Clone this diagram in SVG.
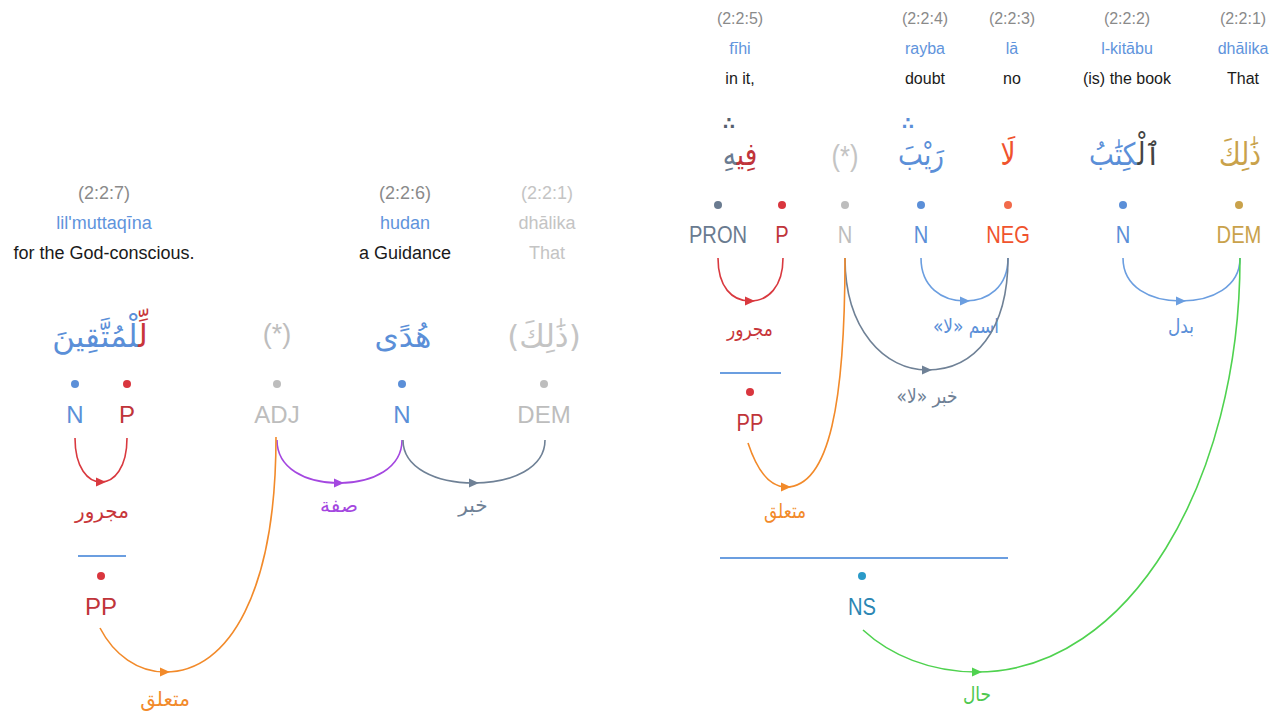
<svg xmlns="http://www.w3.org/2000/svg" width="1283" height="715" viewBox="0 0 1283 715">
<style>
text{font-family:"Liberation Sans",Arial,sans-serif;text-anchor:middle}
.loc{font-size:18px;fill:#8a8a8a}
.tr{font-size:18px;fill:#5f94dc}
.en{font-size:18px;fill:#1a1a1a}
.locR{font-size:16px;fill:#8a8a8a}
.trR{font-size:16px;fill:#5f94dc}
.enR{font-size:16px;fill:#1a1a1a}
.dim{fill:#c4c4c4}
.ar{font-family:"DejaVu Sans",sans-serif;font-size:31px;direction:rtl}
.pos{font-size:24px}
.lbl{font-family:"DejaVu Sans",sans-serif;font-size:20px;direction:rtl}
.waqf{font-family:"DejaVu Sans",sans-serif;font-size:17px;font-weight:bold}
.arc{fill:none;stroke-width:1.6}
.bar{stroke:#6b9ee0;stroke-width:2}
</style>
<defs>
<marker id="mRed" viewBox="0 0 10 10" refX="5" refY="5" markerWidth="10" markerHeight="10" markerUnits="userSpaceOnUse" orient="auto"><path d="M0,0.5 L10,5 L0,9.5z" fill="#d9393f"/></marker>
<marker id="mOrange" viewBox="0 0 10 10" refX="5" refY="5" markerWidth="10" markerHeight="10" markerUnits="userSpaceOnUse" orient="auto"><path d="M0,0.5 L10,5 L0,9.5z" fill="#f28a2a"/></marker>
<marker id="mPurple" viewBox="0 0 10 10" refX="5" refY="5" markerWidth="10" markerHeight="10" markerUnits="userSpaceOnUse" orient="auto"><path d="M0,0.5 L10,5 L0,9.5z" fill="#a447e0"/></marker>
<marker id="mSlate" viewBox="0 0 10 10" refX="5" refY="5" markerWidth="10" markerHeight="10" markerUnits="userSpaceOnUse" orient="auto"><path d="M0,0.5 L10,5 L0,9.5z" fill="#6f8196"/></marker>
<marker id="mBlue" viewBox="0 0 10 10" refX="5" refY="5" markerWidth="10" markerHeight="10" markerUnits="userSpaceOnUse" orient="auto"><path d="M0,0.5 L10,5 L0,9.5z" fill="#6b9ee0"/></marker>
<marker id="mGreen" viewBox="0 0 10 10" refX="5" refY="5" markerWidth="10" markerHeight="10" markerUnits="userSpaceOnUse" orient="auto"><path d="M0,0.5 L10,5 L0,9.5z" fill="#4fd24f"/></marker>
</defs>
<rect width="1283" height="715" fill="#ffffff"/>

<!-- LEFT DIAGRAM -->
<g id="L-w7">
<text class="loc" x="104" y="199">(2:2:7)</text>
<text class="tr" x="104" y="229">lil'muttaqīna</text>
<text class="en" x="104" y="259">for the God-conscious.</text>
<text class="ar" x="100" y="347" direction="rtl"><tspan fill="#c8363a">لِّ</tspan><tspan fill="#5b8fd8">لْمُتَّقِينَ</tspan></text>
<circle cx="75" cy="384" r="4" fill="#5b8fd8"/>
<text class="pos" x="75" y="423" fill="#5b8fd8">N</text>
<circle cx="127" cy="384" r="4" fill="#d9363e"/>
<text class="pos" x="127" y="423" fill="#c0343a">P</text>
</g>
<g id="L-adj">
<text x="277" y="343" font-size="27" fill="#bdbdbd">(*)</text>
<circle cx="277" cy="384" r="4" fill="#bdbdbd"/>
<text class="pos" x="277" y="423" fill="#bdbdbd">ADJ</text>
</g>
<g id="L-w6">
<text class="loc" x="405" y="199">(2:2:6)</text>
<text class="tr" x="405" y="229">hudan</text>
<text class="en" x="405" y="259">a Guidance</text>
<text class="ar" x="403" y="347" fill="#5b8fd8" direction="rtl">هُدًى</text>
<circle cx="402" cy="384" r="4" fill="#5b8fd8"/>
<text class="pos" x="402" y="423" fill="#5b8fd8">N</text>
</g>
<g id="L-w1">
<text class="loc dim" x="547" y="199">(2:2:1)</text>
<text class="tr dim" x="547" y="229">dhālika</text>
<text class="en dim" x="547" y="259">That</text>
<text class="ar" x="544" y="347" fill="#c4c4c4" direction="rtl">(ذَٰلِكَ)</text>
<circle cx="544" cy="384" r="4" fill="#bdbdbd"/>
<text class="pos" x="544" y="423" fill="#bdbdbd">DEM</text>
</g>
<g id="L-pp">
<line class="bar" x1="78" y1="556" x2="126" y2="556"/>
<circle cx="101" cy="576" r="4" fill="#d9363e"/>
<text class="pos" x="101" y="615" fill="#c0343a">PP</text>
</g>

<!-- RIGHT DIAGRAM -->
<g id="R-w5">
<text class="locR" x="740" y="24">(2:2:5)</text>
<text class="trR" x="740" y="54">fīhi</text>
<text class="enR" x="740" y="84">in it,</text>
<text class="waqf" x="729" y="129" fill="#55606e">∴</text>
<text class="ar" transform="translate(740,165) scale(0.85,1)" direction="rtl"><tspan fill="#c0343a">فِي</tspan><tspan fill="#6a7b90">هِ</tspan></text>
<circle cx="718" cy="205" r="4" fill="#6a7b90"/>
<text class="pos" transform="translate(718,243) scale(0.84,1)" fill="#6a7b90">PRON</text>
<circle cx="782" cy="205" r="4" fill="#d9363e"/>
<text class="pos" transform="translate(782,243) scale(0.84,1)" fill="#c0343a">P</text>
</g>
<g id="R-hidden">
<text transform="translate(845,166) scale(0.85,1)" font-size="30" fill="#c4c4c4">(*)</text>
<circle cx="845" cy="205" r="4" fill="#bdbdbd"/>
<text class="pos" transform="translate(845,243) scale(0.84,1)" fill="#bdbdbd">N</text>
</g>
<g id="R-w4">
<text class="locR" x="925" y="24">(2:2:4)</text>
<text class="trR" x="925" y="54">rayba</text>
<text class="enR" x="925" y="84">doubt</text>
<text class="waqf" x="908" y="129" fill="#5b8fd8">∴</text>
<text class="ar" transform="translate(921,165) scale(0.85,1)" fill="#5b8fd8" direction="rtl">رَيْبَ</text>
<circle cx="921" cy="205" r="4" fill="#5b8fd8"/>
<text class="pos" transform="translate(921,243) scale(0.84,1)" fill="#5b8fd8">N</text>
</g>
<g id="R-w3">
<text class="locR" x="1012" y="24">(2:2:3)</text>
<text class="trR" x="1012" y="54">lā</text>
<text class="enR" x="1012" y="84">no</text>
<text class="ar" transform="translate(1008,165) scale(0.85,1)" fill="#f0532d" direction="rtl">لَا</text>
<circle cx="1008" cy="205" r="4" fill="#f26a4a"/>
<text class="pos" transform="translate(1008,243) scale(0.84,1)" fill="#f0532d">NEG</text>
</g>
<g id="R-w2">
<text class="locR" x="1127" y="24">(2:2:2)</text>
<text class="trR" x="1127" y="54">l-kitābu</text>
<text class="enR" x="1127" y="84">(is) the book</text>
<text class="ar" transform="translate(1125,165) scale(0.85,1)" direction="rtl"><tspan fill="#444444">ٱلْ</tspan><tspan fill="#5b8fd8">كِتَٰبُ</tspan></text>
<circle cx="1123" cy="205" r="4" fill="#5b8fd8"/>
<text class="pos" transform="translate(1123,243) scale(0.84,1)" fill="#5b8fd8">N</text>
</g>
<g id="R-w1">
<text class="locR" x="1243" y="24">(2:2:1)</text>
<text class="trR" x="1243" y="54">dhālika</text>
<text class="enR" x="1243" y="84">That</text>
<text class="ar" transform="translate(1240,165) scale(0.85,1)" fill="#c9a24b" direction="rtl">ذَٰلِكَ</text>
<circle cx="1239" cy="205" r="4" fill="#c9a24b"/>
<text class="pos" transform="translate(1239,243) scale(0.84,1)" fill="#c9a24b">DEM</text>
</g>
<g id="R-pp">
<line class="bar" x1="720" y1="373" x2="781" y2="373"/>
<circle cx="750" cy="392" r="4" fill="#d9363e"/>
<text class="pos" transform="translate(750,431) scale(0.84,1)" fill="#c0343a">PP</text>
</g>
<g id="R-ns">
<line class="bar" x1="720" y1="558" x2="1008" y2="558"/>
<circle cx="862" cy="576" r="4" fill="#2a9ac8"/>
<text class="pos" transform="translate(862,615) scale(0.84,1)" fill="#2b86b3">NS</text>
</g>

<!-- CONNECTORS -->
<g id="connectors">
<path class="arc" stroke="#d9393f" marker-mid="url(#mRed)" d="M75,438 C75,468 88,482 101,482 C114,482 127,468 127,438"/>
<text class="lbl" x="102" y="518" fill="#c8363a">مجرور</text>
<path class="arc" stroke="#a447e0" marker-mid="url(#mPurple)" d="M277,440 C277,468 305,483 339,483 C373,483 402,468 402,440"/>
<text class="lbl" x="339" y="512" fill="#a447e0">صفة</text>
<path class="arc" stroke="#6f8196" marker-mid="url(#mSlate)" d="M403,440 C403,468 436,483 474,483 C512,483 545,468 545,440"/>
<text class="lbl" x="473" y="512" fill="#6f8196">خبر</text>
<path class="arc" stroke="#f28a2a" marker-mid="url(#mOrange)" d="M100,628 C114,655 138,672 165,672 C230,672 276,590 276,437"/>
<text class="lbl" x="165" y="706" fill="#f28a2a">متعلق</text>

<path class="arc" stroke="#d9393f" marker-mid="url(#mRed)" d="M718,258 C718,287 732,301 750,301 C768,301 783,287 783,258"/>
<text class="lbl" transform="translate(750,336) scale(0.85,1)" fill="#c8363a">مجرور</text>
<path class="arc" stroke="#6b9ee0" marker-mid="url(#mBlue)" d="M921,258 C921,287 942,301 965,301 C988,301 1008,287 1008,258"/>
<text class="lbl" transform="translate(966,333) scale(0.85,1)" fill="#5b8fd8">اسم «لا»</text>
<path class="arc" stroke="#6f8196" marker-mid="url(#mSlate)" d="M845,258 C845,330 885,370 927,370 C975,370 1008,330 1008,258"/>
<text class="lbl" transform="translate(927,403) scale(0.85,1)" fill="#6f8196">خبر «لا»</text>
<path class="arc" stroke="#6b9ee0" marker-mid="url(#mBlue)" d="M1123,258 C1123,287 1150,301 1181,301 C1212,301 1240,287 1240,258"/>
<text class="lbl" transform="translate(1181,333) scale(0.85,1)" fill="#5b8fd8">بدل</text>
<path class="arc" stroke="#f28a2a" marker-mid="url(#mOrange)" d="M748,443 C757,470 770,487 786,487 C830,487 845,400 845,258"/>
<text class="lbl" transform="translate(785,518) scale(0.85,1)" fill="#f28a2a">متعلق</text>
<path class="arc" stroke="#4fd24f" marker-mid="url(#mGreen)" d="M863,630 C890,655 930,672 977,672 C1130,672 1240,480 1240,258"/>
<text class="lbl" transform="translate(977,701) scale(0.85,1)" fill="#4fc84f">حال</text>
</g>
</svg>
